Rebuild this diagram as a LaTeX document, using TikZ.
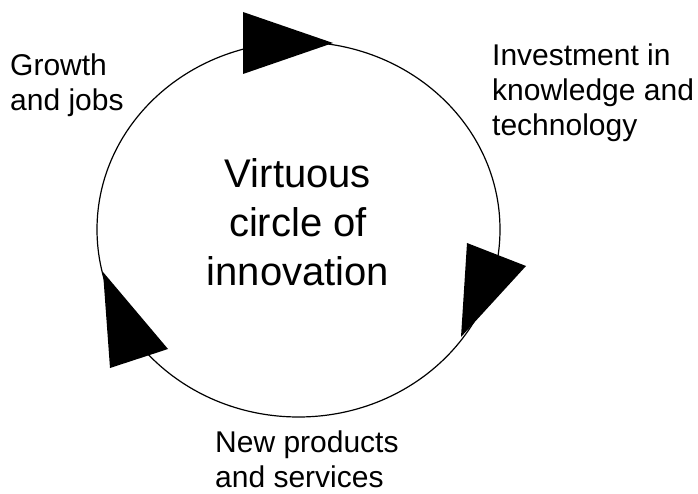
\documentclass[tikz,border=0pt]{standalone}
\usepackage{fontspec}
\setmainfont{Liberation Sans}
\usepackage{tikz}

\tikzset{lbl/.style={font=\fontsize{30}{35}\selectfont, align=left, inner sep=0pt, anchor=base west},
  big/.style={font=\fontsize{40}{49}\selectfont, align=center, inner sep=0pt, anchor=base}}

\begin{document}
\begin{tikzpicture}[x=1pt,y=-1pt]
\useasboundingbox (0,0) rectangle (698,494);
\draw[line width = 1.2pt] (298.5,229.5) ellipse [x radius=201.5, y radius=187.5];
\fill (243,12) -- (243,74) -- (333,43) -- cycle;
\fill (467,243) -- (526,266) -- (461,337) -- cycle;
\fill (103,272) -- (168,349) -- (110,368) -- cycle;
  % anchors sit on the last baseline
  \node[big] (centre) at (298,285) {Virtuous\\circle of\\innovation};
  \node[lbl] (growth) at (10,111) {Growth\\and jobs};
  \node[lbl] (invest) at (492,136) {Investment in\\knowledge and\\technology};
  \node[lbl] (newprod) at (215,487) {New products\\and services};
\end{tikzpicture}
\end{document}
